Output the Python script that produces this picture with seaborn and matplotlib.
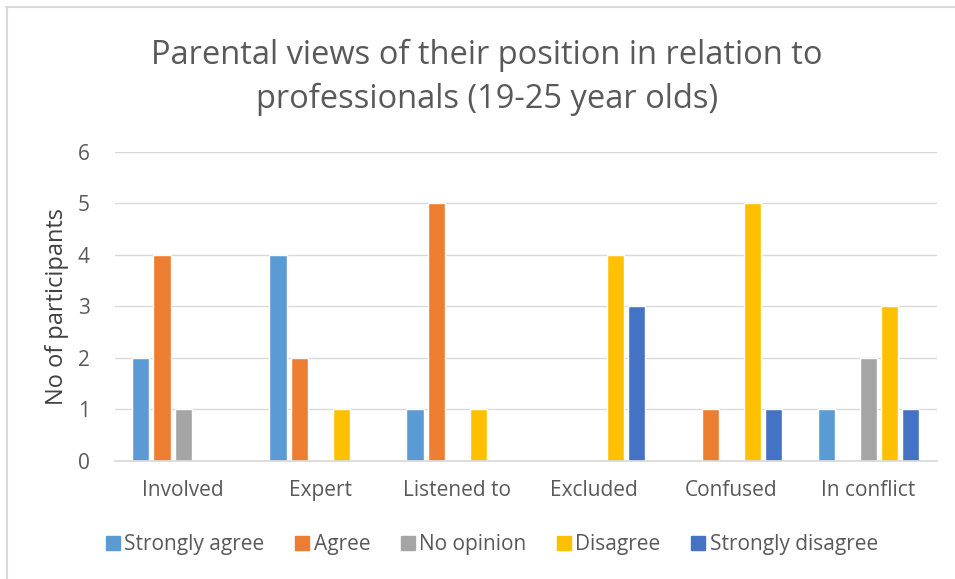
import matplotlib
matplotlib.use("Agg")
import matplotlib.pyplot as plt
import seaborn as sns
import pandas as pd
from matplotlib.lines import Line2D

categories = ["Involved", "Expert", "Listened to", "Excluded", "Confused", "In conflict"]
series_names = ["Strongly agree", "Agree", "No opinion", "Disagree", "Strongly disagree"]
strongly_agree = [2, 4, 1, 0, 0, 1]
agree = [4, 2, 5, 0, 1, 0]
no_opinion = [1, 0, 0, 0, 0, 2]
disagree = [0, 1, 1, 4, 5, 3]
strongly_disagree = [0, 0, 0, 3, 1, 1]
colors = ["#5B9BD5", "#ED7D31", "#A5A5A5", "#FFC000", "#4472C4"]
title = "Parental views of their position in relation to\nprofessionals (19-25 year olds)"
ylabel = "No of participants"

values = [strongly_agree, agree, no_opinion, disagree, strongly_disagree]
rows = []
for s, vals in zip(series_names, values):
    for c, v in zip(categories, vals):
        rows.append({"Category": c, "Series": s, "Value": v})
df = pd.DataFrame(rows)

sns.set_theme(style="white")
plt.rcParams["font.family"] = ["Open Sans", "DejaVu Sans"]

W, H = 955, 579
fig = plt.figure(figsize=(W / 100, H / 100), dpi=100)
ax = fig.add_axes([0.120, 0.204, 0.861, 0.5335])

sns.barplot(data=df, x="Category", y="Value", hue="Series", order=categories,
            hue_order=series_names, palette=colors, width=0.77, gap=0.19,
            saturation=1, ax=ax, legend=False)

ax.set_ylim(0, 6)
ax.set_xlim(-0.5, 5.5)
ax.set_yticks(range(0, 7))
ax.yaxis.grid(True, color="#D9D9D9", linewidth=1)
ax.set_axisbelow(True)
for sp in ["top", "right", "left"]:
    ax.spines[sp].set_visible(False)
ax.spines["bottom"].set_color("#D9D9D9")
ax.tick_params(axis="both", length=0, labelsize=15, colors="#595959")
ax.tick_params(axis="y", pad=18)
ax.tick_params(axis="x", pad=14)
ax.set_xlabel("")
ax.set_ylabel(ylabel, fontsize=17, color="#404040")
ax.yaxis.set_label_coords(-0.055, 0.5)

fig.text(0.51, 0.866, title, ha="center", va="center", fontsize=23.5,
         color="#595959", linespacing=1.42)

handles = [Line2D([0], [0], marker="s", linestyle="", markersize=9.5,
                  markerfacecolor=c, markeredgecolor=c) for c in colors]
fig.legend(handles, series_names, loc="center", bbox_to_anchor=(0.515, 0.059),
           ncol=5, frameon=False, fontsize=15, labelcolor="#595959",
           handlelength=0.7, handletextpad=0.2, columnspacing=1.45)

# chart-area border (left and top edges visible)
fig.add_artist(Line2D([6.5 / W, 6.5 / W], [0, 1 - 7 / H], transform=fig.transFigure,
                      color="#D9D9D9", linewidth=1.5))
fig.add_artist(Line2D([6 / W, 1], [1 - 7 / H, 1 - 7 / H], transform=fig.transFigure,
                      color="#D9D9D9", linewidth=1.5))

fig.savefig("out.png", dpi=100)
